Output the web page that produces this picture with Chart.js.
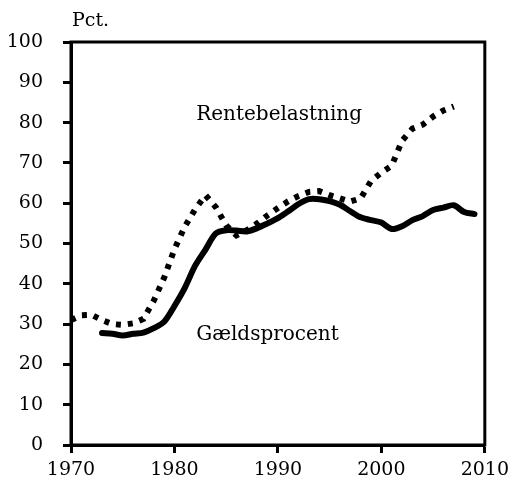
<!DOCTYPE html>
<html>
<head>
<meta charset="utf-8">
<script src="https://cdn.jsdelivr.net/npm/chart.js@4"></script>
<style>
html,body{margin:0;padding:0;background:#fff}
#wrap{width:515px;height:486px}
</style>
</head>
<body>
<div id="wrap"><canvas id="gaeldChart" width="515" height="486"></canvas></div>
<script>
// Rentebelastning (dotted), annual
const renteYears = [1970,1971,1972,1973,1974,1975,1976,1977,1978,1979,1980,1981,1982,1983,1984,1985,1986,1987,1988,1989,1990,1991,1992,1993,1994,1995,1996,1997,1998,1999,2000,2001,2002,2003,2004,2005,2006,2007]
const renteValues = [31,32.2,32.3,31,30,29.8,30.2,31.3,35.8,41.5,48.6,54.2,58.5,62,59,54.5,52,53.3,55,57,58.8,60.5,61.8,62.8,63,62,61.2,60.4,61.2,65.5,67.6,69.3,75.5,78.5,79.5,81.5,83,84]

// Gældsprocent (solid), annual
const gaeldYears = [1973,1974,1975,1976,1977,1978,1979,1980,1981,1982,1983,1984,1985,1986,1987,1988,1989,1990,1991,1992,1993,1994,1995,1996,1997,1998,1999,2000,2001,2002,2003,2004,2005,2006,2007,2008,2009]
const gaeldValues = [27.8,27.6,27.2,27.6,27.9,29,30.6,34.5,39,44.5,48.5,52.5,53.3,53.2,53,53.8,55,56.3,58,59.8,61,61,60.5,59.6,58,56.5,55.8,55.2,53.6,54.3,55.8,56.8,58.3,58.9,59.5,57.8,57.3]

const xTicks = [1970,1980,1990,2000,2010]
const yTicks = [0,10,20,30,40,50,60,70,80,90,100]

const seriesLabels = [
{text:"Rentebelastning",x:1982.1,y:82},
{text:"Gældsprocent",x:1982.1,y:27.3}
]

const serif = "'DejaVu Serif', serif"

const toPoints = (xs,ys) => xs.map((x,i) => ({x:x,y:ys[i]}))

const framePlugin = {
id:"frame",
afterDraw(chart){
const c = chart.ctx
const a = chart.chartArea
const xs = chart.scales.x
const ys = chart.scales.y
c.save()
c.strokeStyle = "#000"
c.lineWidth = 3
c.strokeRect(a.left,a.top,a.right-a.left,a.bottom-a.top)
c.fillStyle = "#000"
c.font = "20px " + serif
c.textBaseline = "middle"
c.textAlign = "left"
seriesLabels.forEach(l => {
c.fillText(l.text,xs.getPixelForValue(l.x),ys.getPixelForValue(l.y))
})
c.font = "19px " + serif
c.fillText("Pct.",a.left+1,21)
c.restore()
}
}

const gaeldChart = new Chart(document.getElementById("gaeldChart").getContext("2d"),{

type:"line",

data:{
datasets:[{
label:"Rentebelastning",
data:toPoints(renteYears,renteValues),
borderColor:"#000",
borderWidth:6,
borderDash:[5,7],
borderCapStyle:"butt",
pointRadius:0,
tension:0
},{
label:"Gældsprocent",
data:toPoints(gaeldYears,gaeldValues),
borderColor:"#000",
borderWidth:6,
borderCapStyle:"round",
borderJoinStyle:"round",
pointRadius:0,
tension:0.3
}]
},

options:{
responsive:false,
animation:false,
layout:{padding:{top:42,right:26,left:0,bottom:0}},
plugins:{legend:{display:false},tooltip:{enabled:false}},
scales:{
x:{
type:"linear",
min:1970,max:2010,
afterBuildTicks(s){s.ticks = xTicks.map(v => ({value:v}))},
afterFit(s){s.height = 41},
border:{color:"#000",width:3},
grid:{drawOnChartArea:false,color:"#000",tickLength:8,tickWidth:3},
ticks:{color:"#000",font:{family:serif,size:19},padding:6,maxRotation:0,callback:v => String(v)}
},
y:{
min:0,max:100,
afterBuildTicks(s){s.ticks = yTicks.map(v => ({value:v}))},
afterFit(s){s.width = 71},
border:{color:"#000",width:3},
grid:{drawOnChartArea:false,color:"#000",tickLength:8,tickWidth:3},
ticks:{color:"#000",font:{family:serif,size:19},padding:20}
}
}
},

plugins:[framePlugin]

})
</script>
</body>
</html>
